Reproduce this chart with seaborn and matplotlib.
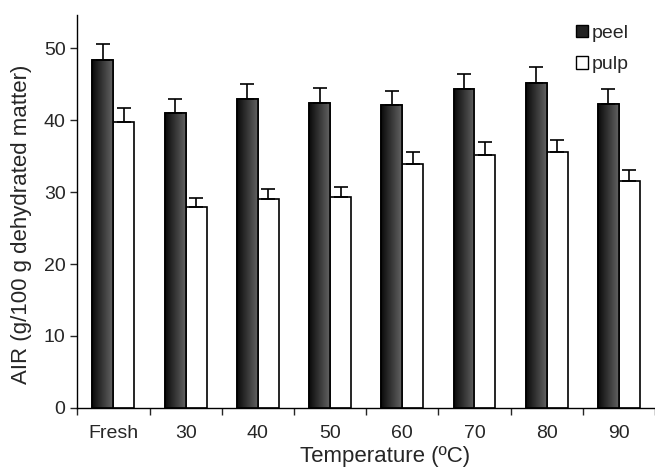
import numpy as np
import pandas as pd
import seaborn as sns
import matplotlib.pyplot as plt
from matplotlib.colors import LinearSegmentedColormap
from matplotlib.patches import Patch

# %% Datos.
categorias = ['Fresh', '30', '40', '50', '60', '70', '80', '90']
peel = [48.3, 41.0, 42.9, 42.4, 42.1, 44.3, 45.2, 42.3]
peel_err = [2.3, 2.0, 2.1, 2.1, 2.0, 2.1, 2.2, 2.0]
pulp = [39.8, 27.9, 29.0, 29.3, 33.9, 35.2, 35.6, 31.6]
pulp_err = [1.9, 1.3, 1.4, 1.4, 1.6, 1.7, 1.7, 1.5]

df = pd.DataFrame({
    'Temperatura': categorias * 2,
    'AIR': peel + pulp,
    'err': peel_err + pulp_err,
    'Parte': ['peel'] * len(categorias) + ['pulp'] * len(categorias),
})

sns.set_style('ticks')
plt.rcParams['font.family'] = ['Liberation Sans', 'DejaVu Sans']

fig = plt.figure(figsize=(6.55, 4.70), dpi=100)
ax = fig.add_axes([0.118, 0.132, 0.882, 0.836])

sns.barplot(data=df, x='Temperatura', y='AIR', hue='Parte', order=categorias,
            hue_order=['peel', 'pulp'], palette=['#333333', 'white'],
            width=0.58, edgecolor='black', linewidth=1.2, errorbar=None,
            legend=False, ax=ax)

n = len(categorias)
ax.set_xlim(-0.5, n - 0.5)
ax.set_ylim(0, 54.6)

# Degradado en las barras de "peel" y barras de error solo hacia arriba.
cmap = LinearSegmentedColormap.from_list('grad', ['#0a0a0a', '#626262'])
grad = np.linspace(0, 1, 64).reshape(1, -1)
for i, barra in enumerate(ax.patches[:2 * n]):
    x0, w, h = barra.get_x(), barra.get_width(), barra.get_height()
    err = df['err'].iloc[i]
    if i < n:
        im = ax.imshow(grad, cmap=cmap, aspect='auto', extent=(x0, x0 + w, 0, h),
                       zorder=barra.get_zorder() + 0.1)
        im.set_clip_path(barra)
        ax.add_patch(plt.Rectangle((x0, 0), w, h, fill=False, edgecolor='black',
                                   linewidth=1.2, zorder=barra.get_zorder() + 0.2))
    ax.errorbar(x0 + w / 2, h, yerr=[[0], [err]], color='black', capsize=5,
                elinewidth=1.2, capthick=1.2, zorder=5)
ax.set_xlim(-0.5, n - 0.5)
ax.set_ylim(0, 54.6)

# Ejes.
ax.set_yticks(range(0, 51, 10))
ax.set_xticks(np.arange(-0.5, n, 1), minor=True)
ax.set_xticks(range(n))
ax.set_xticklabels(categorias)
ax.tick_params(axis='x', which='major', length=0, pad=12, labelsize=14)
ax.tick_params(axis='x', which='minor', length=5, width=1)
ax.tick_params(axis='y', length=5, width=1, labelsize=14)
sns.despine(ax=ax)
for lado in ['left', 'bottom']:
    ax.spines[lado].set_linewidth(1)
    ax.spines[lado].set_color('black')

ax.set_xlabel('Temperature (ºC)', fontsize=16)
ax.set_ylabel('AIR (g/100 g dehydrated matter)', fontsize=16)
ax.xaxis.set_label_coords(0.533, -0.098)
ax.yaxis.set_label_coords(-0.078, 0.468)

handles = [Patch(facecolor='#222222', edgecolor='black', label='peel'),
           Patch(facecolor='white', edgecolor='black', label='pulp')]
ax.legend(handles=handles, loc='upper right', bbox_to_anchor=(0.985, 1.02),
          frameon=False, fontsize=14, handlelength=0.6, handleheight=0.6,
          handletextpad=0.2, labelspacing=0.75)

fig.savefig('out.png', dpi=100)
